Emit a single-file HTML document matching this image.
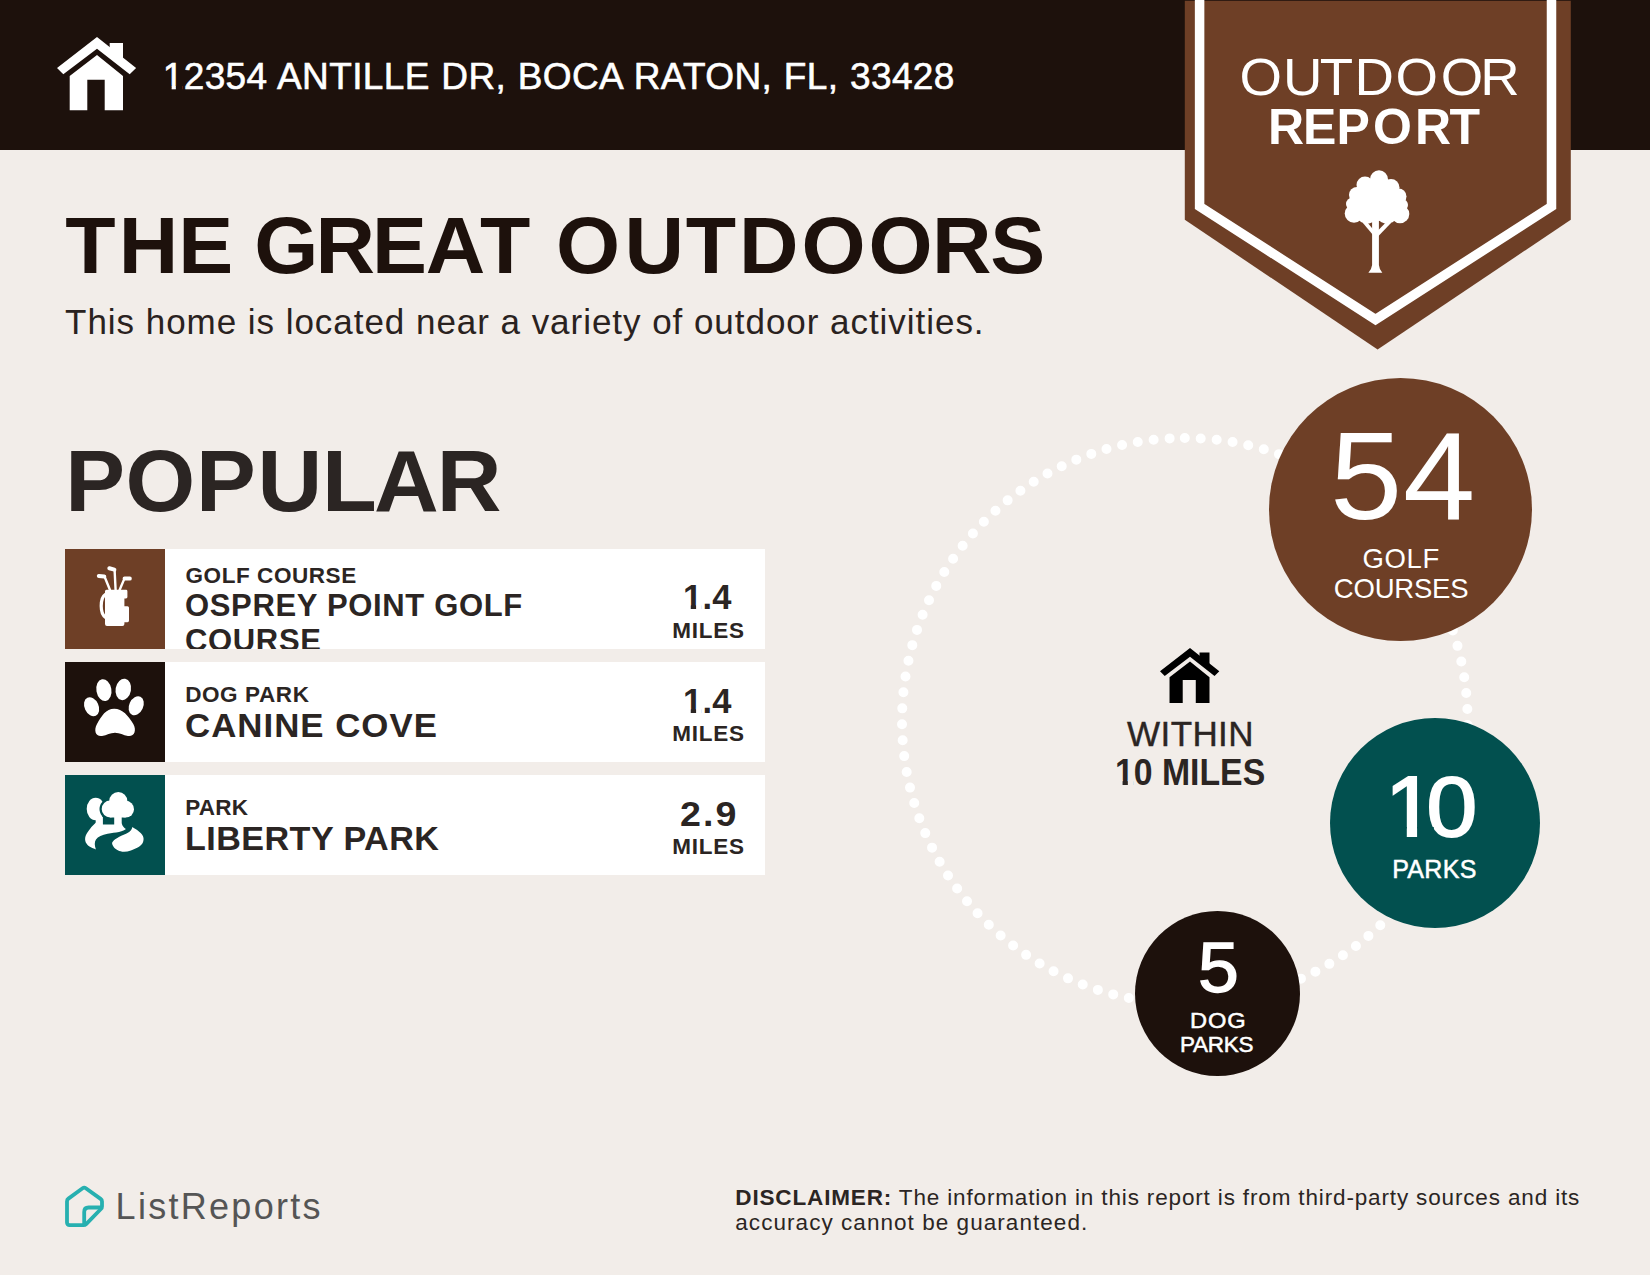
<!DOCTYPE html>
<html lang="en">
<head>
<meta charset="utf-8">
<title>Outdoor Report</title>
<style>
html,body{margin:0;padding:0;}
body{width:1650px;height:1275px;position:relative;overflow:hidden;background:#f2ede9;font-family:"Liberation Sans",sans-serif;color:#1d110c;}
.abs{position:absolute;white-space:nowrap;line-height:1;transform-origin:0 0;}
.w{color:#fff;}
.b{font-weight:bold;}
.d{color:#2b2523;}
#hdr{position:absolute;left:0;top:0;width:1650px;height:150px;background:#1d110c;}
.tw{font-weight:bold;color:#1d110c;}
.row{position:absolute;left:65px;width:700px;height:100px;background:#fff;overflow:hidden;}
.row .ic{position:absolute;left:0;top:0;width:100px;height:100px;}
.circ{position:absolute;border-radius:50%;}
.o1{clip-path:polygon(0 -0.2em,100em -0.2em,100em 1.4em,0.525em 1.4em,0.525em 0.748em,0.352em 0.748em,0.352em 1.4em,0.24em 1.4em,0.24em 0.748em,0 0.748em);}
.o1b{clip-path:polygon(0 -0.2em,100em -0.2em,100em 1.4em,0.545em 1.4em,0.545em 0.718em,0.38em 0.718em,0.38em 1.4em,0.224em 1.4em,0.224em 0.718em,0 0.718em);}
</style>
</head>
<body>
<div id="hdr"></div>
<svg class="abs" style="left:57px;top:37px" width="80" height="74" viewBox="0 0 80 74"><g fill="#fff"><polygon points="40,0 79.1,30.9 72.7,37.2 40,11.7 6.3,37.2 0,30.9"/><polygon points="52.7,6 66,6 66,24 52.7,14"/><polygon points="40,18 66,39 66,73.2 47.7,73.2 47.7,42.7 30.3,42.7 30.3,73.2 12.7,73.2 12.7,39"/></g></svg>
<div id="addr" class="abs w o1" style="-webkit-text-stroke-width:0.6px;left:162.8px;top:58.0px;font-size:37px;letter-spacing:0.36px;word-spacing:1px;">12354 ANTILLE DR, BOCA RATON, FL, 33428</div>

<svg class="abs" style="left:1180px;top:0" width="400" height="355" viewBox="1180 0 400 355">
<polygon points="1184.8,0.8 1570.8,0.8 1570.8,219.8 1377.6,349.4 1184.8,219.8" fill="#6e3f26"/>
<polyline points="1199.6,-5 1199.6,206.5 1375.5,319.5 1551.5,206.5 1551.5,-5" fill="none" stroke="#fff" stroke-width="9.5" stroke-linejoin="miter"/>
<g fill="#fff" stroke="none">
<circle cx="1377" cy="200" r="21"/>
<circle cx="1379" cy="179.3" r="9"/>
<circle cx="1365" cy="185" r="8.5"/>
<circle cx="1391" cy="187.5" r="8.5"/>
<circle cx="1357" cy="195" r="8"/>
<circle cx="1398.5" cy="196.5" r="8"/>
<circle cx="1352.5" cy="204" r="6.5"/>
<circle cx="1402" cy="205" r="6"/>
<circle cx="1354" cy="213.5" r="9.3"/>
<circle cx="1400" cy="214" r="9.3"/>
<circle cx="1367" cy="212.8" r="10.8"/>
<circle cx="1387" cy="212.8" r="10.8"/>
<path d="M1372.1 220 L1378.9 220 L1378.9 265 Q1379.3 269.5 1382.3 272.8 L1368.4 272.8 Q1371.6 269.5 1372.1 265 Z"/>
<path d="M1362.5 222.5 L1365.8 220.5 L1374 230.5 L1373 235 Z"/>
<path d="M1391 223 L1387.5 220.8 L1377.5 231 L1378 236.5 Z"/>
</g>
<g font-family="Liberation Sans, sans-serif" fill="#fff"><text id="b1" transform="scale(1.05,1)" x="1180.6 1221.8 1257.0 1289.9 1329.1 1372.1 1409.8" y="94.7" font-size="52">OUTDOOR</text><text id="b2" x="1267.9 1303.1 1336.4 1372.9 1415.0 1449.4" y="143.9" font-size="50" font-weight="bold">REPORT</text></g>
</svg>

<svg class="abs" id="title" style="left:0;top:190px" width="1100" height="110" viewBox="0 190 1100 110"><text transform="scale(1.03,1)" x="63.3 115.4 173.1 226.5 246.9 306.3 361.1 413.3 466.1 514.9 539.7 606.2 665.9 717.5 778.1 843.3 904.8 961.4" y="272.8" font-family="Liberation Sans, sans-serif" font-weight="bold" font-size="80" fill="#1d110c">THE GREAT OUTDOORS</text></svg>
<div id="sub" class="abs" style="color:#2a2220;left:65.1px;top:304.2px;font-size:35px;letter-spacing:0.96px;">This home is located near a variety of outdoor activities.</div>
<svg class="abs" id="pop" style="left:0;top:420px" width="560" height="120" viewBox="0 420 560 120"><text transform="scale(1.03,1)" x="63.3 121.9 190.4 250.1 312.6 363.1 424.0" y="511.1" font-family="Liberation Sans, sans-serif" font-weight="bold" font-size="87" fill="#2b2523">POPULAR</text></svg>

<div class="row" style="top:549px"><div class="ic" style="background:#6e3f26"><svg width="100" height="100" viewBox="0 0 100 100" style="position:absolute;left:0;top:0"><g fill="#fff" stroke="#fff" stroke-linecap="round" stroke-linejoin="round">
<path d="M41.5 40.8 H61 Q62.4 40.8 62.4 42.2 V48 Q62.4 49.4 61 49.4 H59.4 V57.3 H62.5 Q64 57.3 64 58.8 V71.5 Q64 73.3 62.5 73.3 H59.4 V75 Q59.4 77 57.4 77 H42 Q40 77 40 75 V42.3 Q40 40.8 41.5 40.8 Z" stroke="none"/>
<path d="M40.5 45.3 Q36.2 48 36.2 57 Q36.2 65.5 40.5 68.3" fill="none" stroke-width="3.2"/>
<path d="M45 41 L39.6 27.8" fill="none" stroke-width="2.4"/>
<path d="M39.3 27.6 L33.8 27" fill="none" stroke-width="4"/>
<path d="M50.6 41 L49.6 21" fill="none" stroke-width="2.4"/>
<path d="M49.4 20.6 L44.3 19.2" fill="none" stroke-width="4"/>
<path d="M54.6 41 L59.4 29.6" fill="none" stroke-width="2.4"/>
<path d="M59.6 29.4 L64.8 29.6" fill="none" stroke-width="4"/>
</g></svg></div>
<div class="abs b d" id="r1l" style="left:120.5px;top:15.5px;font-size:22.5px;letter-spacing:0.57px;">GOLF COURSE</div><div class="abs b d" id="r1n" style="white-space:normal;width:400px;line-height:35px;left:120.0px;top:39.4px;font-size:31px;letter-spacing:0.66px;">OSPREY POINT GOLF COURSE</div>
<div class="abs b d o1b" id="r1d" style="left:618.0px;top:31.2px;font-size:34.5px;letter-spacing:0.2px;">1.4</div><div class="abs b d" id="r1m" style="left:607.2px;top:70.5px;font-size:22.5px;letter-spacing:0.78px;">MILES</div></div>
<div class="row" style="top:662px"><div class="ic" style="background:#1d110c"><svg width="100" height="100" viewBox="0 0 100 100" style="position:absolute;left:0;top:0"><g fill="#fff">
<ellipse cx="38.9" cy="28.1" rx="7.5" ry="11" transform="rotate(-10 38.9 28.1)"/>
<ellipse cx="58.3" cy="27.4" rx="7.7" ry="10.8" transform="rotate(10 58.3 27.4)"/>
<ellipse cx="26.6" cy="44.7" rx="7" ry="10" transform="rotate(-25 26.6 44.7)"/>
<ellipse cx="71.2" cy="43.8" rx="7" ry="10" transform="rotate(25 71.2 43.8)"/>
<path d="M49.2 46.8 C41 46.8 36.5 54 32 62 C28.3 68.8 31 75 37 74 C42 73.2 45 70.7 50 70.7 C55 70.7 58 73.2 63 74 C69 75 72 68.8 68.3 62 C63.5 54 57.5 46.8 49.2 46.8 Z"/>
</g></svg></div>
<div class="abs b d" id="r2l" style="left:120.2px;top:22.1px;font-size:22.5px;letter-spacing:0.59px;">DOG PARK</div><div class="abs b d" id="r2n" style="left:119.6px;top:46.6px;font-size:33.5px;letter-spacing:0.97px;transform:scaleX(1.0392);">CANINE COVE</div>
<div class="abs b d o1b" id="r2d" style="left:618.0px;top:22.0px;font-size:34.5px;letter-spacing:0.2px;">1.4</div><div class="abs b d" id="r2m" style="left:607.2px;top:60.8px;font-size:22.5px;letter-spacing:0.78px;">MILES</div></div>
<div class="row" style="top:775px"><div class="ic" style="background:#02504f"><svg width="100" height="100" viewBox="0 0 100 100" style="position:absolute;left:0;top:0"><g fill="#fff">
<ellipse cx="30.7" cy="34" rx="9" ry="11.3"/>
<path d="M30.7 42 H37.9 V53 H30.7 Z"/>
<path d="M31 47.5 C27 51 22.5 56.5 20.6 61 C19 66 21.5 69.5 24.5 71.5 C27 73.2 29 73.5 30.9 74.4 C29.5 70.5 29.3 67 31 64.5 C33 61.5 37 60 42.6 58.8 C47 57.9 50 57.6 54 56.9 C57.5 56.2 60 55.2 60.9 54.1 C59.5 53.2 57.5 51.5 56.7 48.5 L49.2 49.5 L37.9 49.5 Z"/>
<g fill="#02504f"><circle cx="45.2" cy="34" r="10.7"/><circle cx="53.3" cy="26.2" r="11.3"/></g>
<circle cx="45.2" cy="34" r="8.5"/><circle cx="60.6" cy="34.2" r="8.4"/><circle cx="53.3" cy="26.2" r="9.1"/><rect x="45.2" y="34" width="15.4" height="8.5"/>
<path d="M49.2 40 H56.7 V52 H49.2 Z"/>
<path d="M67.4 52 C72 55 78 58.5 78.5 63 C79 67.5 76.5 70.5 72.7 72.5 C68.5 74.8 63 76.9 58.9 76.8 C54.5 76.7 50.5 74.5 48.7 72 C47 69.6 46.7 68 47.5 67 C49 65 51 63.5 53.9 62 C57 60.4 60.5 59.3 63.3 57.6 C65.5 56.2 66.8 54.3 67.4 52 Z"/>
</g></svg></div>
<div class="abs b d" id="r3l" style="left:120.3px;top:22.4px;font-size:22.5px;letter-spacing:0.2px;">PARK</div><div class="abs b d" id="r3n" style="left:119.8px;top:46.9px;font-size:33.5px;letter-spacing:0.44px;transform:scaleX(1.0187);">LIBERTY PARK</div>
<div class="abs b d" id="r3d" style="left:615.0px;top:22.0px;font-size:34.5px;letter-spacing:1.85px;transform:scaleX(1.0898);">2.9</div><div class="abs b d" id="r3m" style="left:607.2px;top:60.5px;font-size:22.5px;letter-spacing:0.78px;">MILES</div></div>

<svg class="abs" style="left:890px;top:425px" width="590" height="590" viewBox="890 425 590 590"><circle cx="1184.8" cy="720.8" r="282.8" fill="none" stroke="#fff" stroke-width="10" stroke-linecap="round" stroke-dasharray="0 16.008" transform="rotate(-90 1184.8 720.8)"/></svg>

<div class="circ" style="left:1269px;top:378px;width:263px;height:263px;background:#6e3f26"></div>
<div class="circ" style="left:1330px;top:718px;width:210px;height:210px;background:#02504f"></div>
<div class="circ" style="left:1135px;top:911px;width:165px;height:165px;background:#1d110c"></div>

<div class="abs w" id="n54" style="left:1329.9px;top:414.0px;font-size:124px;letter-spacing:0.8px;transform:scaleX(1.048);">54</div>
<div class="abs w" id="t54a" style="left:1362.4px;top:545.1px;font-size:27.5px;letter-spacing:0.67px;">GOLF</div>
<div class="abs w" id="t54b" style="left:1333.8px;top:575.0px;font-size:27.5px;letter-spacing:-0.2px;">COURSES</div>
<div class="abs w" id="n10" style="-webkit-text-stroke-width:2px;clip-path:polygon(0 -0.2em,100em -0.2em,100em 1.4em,0.535em 1.4em,0.535em 0.742em,0.352em 0.742em,0.352em 1.4em,0.239em 1.4em,0.239em 0.742em,0 0.742em);left:1384.6px;top:763.2px;font-size:86px;letter-spacing:-8.6px;transform:scaleX(1.06);">10</div>
<div class="abs w" id="t10" style="-webkit-text-stroke-width:0.5px;left:1392.2px;top:856.5px;font-size:25px;letter-spacing:0.32px;">PARKS</div>
<div class="abs w" id="n5" style="-webkit-text-stroke-width:1.4px;left:1197.7px;top:932.6px;font-size:70px;transform:scaleX(1.0486);">5</div>
<div class="abs w" id="t5a" style="-webkit-text-stroke-width:0.5px;left:1189.8px;top:1009.8px;font-size:22.5px;letter-spacing:0.81px;transform:scaleX(1.052);">DOG</div>
<div class="abs w" id="t5b" style="-webkit-text-stroke-width:0.5px;left:1179.9px;top:1034.0px;font-size:22.5px;letter-spacing:-0.27px;">PARKS</div>

<svg class="abs" style="left:1160px;top:648px" width="60" height="55.5" viewBox="0 0 80 74"><g fill="#000"><polygon points="40,0 79.1,30.9 72.7,37.2 40,11.7 6.3,37.2 0,30.9"/><polygon points="52.7,6 66,6 66,24 52.7,14"/><polygon points="40,18 66,39 66,73.2 47.7,73.2 47.7,42.7 30.3,42.7 30.3,73.2 12.7,73.2 12.7,39"/></g></svg>
<div class="abs d" id="w1" style="-webkit-text-stroke-width:0.4px;left:1127.1px;top:716.4px;font-size:35px;letter-spacing:0.4px;">WITHIN</div>
<div class="abs b d o1b" id="w2" style="left:1114.8px;top:754.5px;font-size:36px;transform:scaleX(0.9382);">10 MILES</div>

<svg class="abs" style="left:60px;top:1180px" width="50" height="50" viewBox="0 0 50 50"><g fill="none" stroke="#27b0b0" stroke-width="3.8" stroke-linejoin="round" stroke-linecap="round">
<path d="M22.6 8.2 Q24.2 7 25.8 8.2 L40.6 18.9 Q42 19.9 42 21.6 V26.4 Q42 27.9 40.9 29 L26.4 43.8 Q25.1 45.1 23.3 45.1 H9.6 Q7 45.1 7 42.5 V21.4 Q7 19.6 8.4 18.6 Z"/>
<path d="M41 27.5 H28.6 Q24.2 27.5 24.2 32 V44"/>
</g></svg>
<div id="logo" class="abs" style="color:#555;left:115.6px;top:1189.0px;font-size:36px;letter-spacing:2.29px;">ListReports</div>
<div id="disc" class="abs d" style="line-height:25px;left:735.3px;top:1185px;font-size:22.5px;letter-spacing:0.85px;"><b>DISCLAIMER:</b> The information in this report is from third-party sources and its<br><span style="letter-spacing:1.05px">accuracy cannot be guaranteed.</span></div>
</body>
</html>
